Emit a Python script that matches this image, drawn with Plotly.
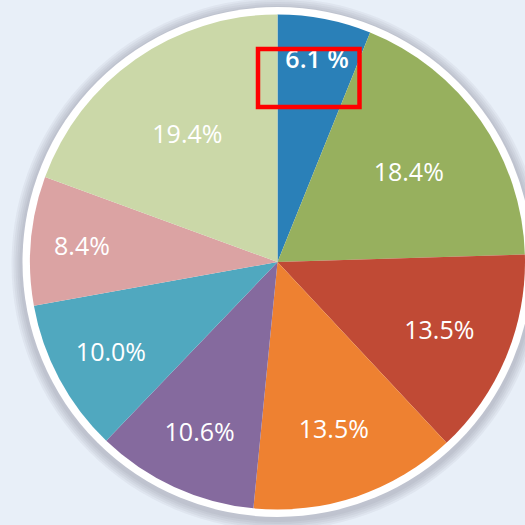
import plotly.graph_objects as go

labels = ["A", "B", "C", "D", "E", "F", "G", "H"]
values = [6.1, 18.4, 13.5, 13.5, 10.6, 10.0, 8.4, 19.4]
text_labels = ["6.1 %", "18.4%", "13.5%", "13.5%", "10.6%", "10.0%", "8.4%", "19.4%"]
text_weights = [600, 400, 400, 400, 400, 400, 400, 400]
colors = ["#2a80b8", "#97b05e", "#c04a35", "#ee8131", "#856a9e", "#50a8bf", "#dba3a3", "#cbd8a8"]

W, H = 525, 525
cx, cy, R = 277.5, 262, 247.5

def px(x):
    return x / W

def py(y):
    return (H - y) / H

fig = go.Figure()
fig.add_trace(go.Pie(
    labels=labels, values=values, text=text_labels,
    textinfo="text", textposition="inside", insidetextorientation="horizontal",
    sort=False, direction="clockwise", rotation=0,
    marker=dict(colors=colors, line=dict(width=0)),
    textfont=dict(family="Open Sans", size=25, color="white", weight=text_weights),
    hoverinfo="label+percent", showlegend=False,
    domain=dict(x=[px(cx - R), min(1, px(cx + R))], y=[py(cy + R), py(cy - R)]),
))

shapes = []
# soft shadow
for i, rr in enumerate([266, 264, 262, 260, 258]):
    shapes.append(dict(type="circle", xref="paper", yref="paper", layer="below",
                       x0=px(cx - rr), x1=px(cx + rr), y0=py(cy + 2 + rr), y1=py(cy + 2 - rr),
                       fillcolor="rgba(70,80,100,0.055)", line=dict(width=0)))
# white ring
rw = 255
shapes.append(dict(type="circle", xref="paper", yref="paper", layer="below",
                   x0=px(cx - rw), x1=px(cx + rw), y0=py(cy + rw), y1=py(cy - rw),
                   fillcolor="white", line=dict(width=0)))
# red highlight rectangle
shapes.append(dict(type="rect", xref="paper", yref="paper", layer="above",
                   x0=px(258), x1=px(359.5), y0=py(107), y1=py(49),
                   line=dict(color="#ff0000", width=4.5), fillcolor="rgba(0,0,0,0)"))

fig.update_layout(
    width=W, height=H, margin=dict(l=0, r=0, t=0, b=0),
    paper_bgcolor="#e8eff8", plot_bgcolor="#e8eff8",
    shapes=shapes,
)
fig.write_html("out.html")
